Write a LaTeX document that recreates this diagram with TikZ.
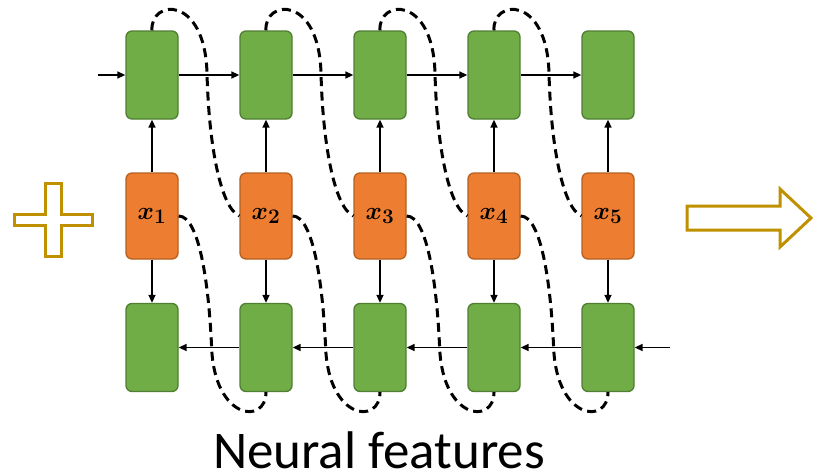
\documentclass[tikz,border=0pt]{standalone}
\usepackage{fontspec}
\usepackage{bm}
\setsansfont{Carlito}
\usetikzlibrary{arrows.meta}
\definecolor{cellgreen}{HTML}{70AD47}
\definecolor{cellgreenline}{HTML}{507E32}
\definecolor{cellorange}{HTML}{ED7D31}
\definecolor{cellorangeline}{HTML}{B4601F}
\definecolor{gold}{HTML}{BF9000}
\tikzset{
  cell/.style={draw=cellgreenline, fill=cellgreen, line width=1.3pt, rounded corners=6pt,
    minimum width=52pt, minimum height=88pt, inner sep=0pt},
  inputcell/.style={draw=cellorangeline, fill=cellorange, line width=1.3pt, rounded corners=6pt,
    minimum width=52pt, minimum height=86pt, inner sep=0pt,
    font=\fontsize{28}{32}\selectfont},
  link/.style={line width=1.5pt, -{Triangle[length=8pt,width=7pt]}},
  skip/.style={line width=3pt, dash pattern=on 9pt off 5.5pt},
  outline/.style={draw=gold, line width=3pt}
}
\begin{document}
\begin{tikzpicture}[x=1pt, y=-1pt]
\useasboundingbox (0,0) rectangle (813,472);
% cells
\foreach \i in {1,...,5} {
  \node [cell] (top\i) at ({38+114*\i},75) {};
  \node [inputcell] (mid\i) at ({38+114*\i},216) {$\bm{x_{\i}}$};
  \node [cell] (bot\i) at ({38+114*\i},347.5) {};
  \draw [link] (mid\i.north) -- (top\i.south);
  \draw [link] (mid\i.south) -- (bot\i.north);
}
% forward and backward rows
\coordinate (fin) at (98,75);
\coordinate (bin) at (670,347.5);
\draw [link] (fin) -- (top1.west);
\draw [link] (bin) -- (bot5.east);
\foreach \i/\j in {1/2,2/3,3/4,4/5} {
  \draw [link] (top\i.east) -- (top\j.west);
  \draw [link] (bot\j.west) -- (bot\i.east);
}
% skip links
\foreach \i/\j in {1/2,2/3,3/4,4/5} {
  \draw [skip] (top\i.north) .. controls +(-2,-31) and +(-2,-79) .. ++(55,43)
    .. controls +(2,76) and +(-18,-8) .. (mid\j.west);
  \draw [skip] (mid\i.east) .. controls +(20,0) and +(-3,-68) .. ++(33,132)
    .. controls +(3,72) and +(0,33) .. (bot\j.south);
}
% plus sign
\draw [outline] (45,183) -- (61,183) -- (61,214) -- (92,214) -- (92,225) -- (61,225)
  -- (61,256) -- (45,256) -- (45,225) -- (14,225) -- (14,214) -- (45,214) -- cycle;
% output arrow
\draw [outline] (687,206) -- (780,206) -- (780,189) -- (811,218) -- (780,247)
  -- (780,230) -- (687,230) -- cycle;
\node [font=\sffamily\fontsize{53}{56}\selectfont, anchor=base, inner sep=0pt] (caption) at (379,468) {Neural features};
\end{tikzpicture}
\end{document}
